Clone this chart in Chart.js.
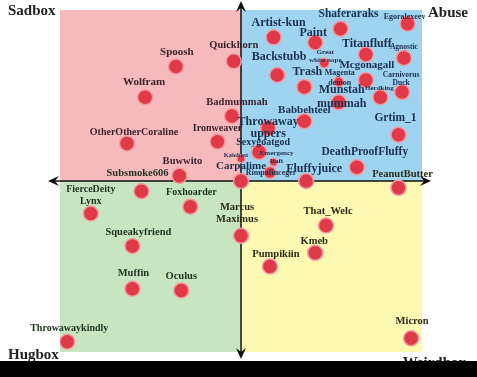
<!DOCTYPE html>
<html>
<head>
<meta charset="utf-8">
<script src="https://cdn.jsdelivr.net/npm/chart.js@4/dist/chart.umd.min.js"></script>
<style>
  html, body { margin: 0; padding: 0; background: #000; }
  canvas { display: block; }
</style>
</head>
<body>
<canvas id="quadChart" width="477" height="361"></canvas>
<script>
// data: x = sad(-) .. abuse/weird(+), y = hug(-) .. sad/abuse(+)
const names = [
  "Spoosh", "Quickhorn", "Wolfram", "Badmummah", "OtherOtherCoraline", "Ironweaver",
  "Buwwito", "Subsmoke606", "FierceDeity\nLynx", "Foxhoarder", "Marcus\nMaximus",
  "Squeakyfriend", "Muffin", "Oculus", "Throwawaykindly", "That_Welc", "Kmeb",
  "Pumpikiin", "Micron", "PeanutButter", "Shaferaraks", "Egoralexeev", "Artist-kun",
  "Paint", "Titanfluff", "Agnostic", "Great\nwhite nope", "Backstubb", "Mcgonagall",
  "Trash", "Magenta\ndemon", "Carnivorus\nDuck", "Herdking", "Munstah\nmummah",
  "Babbehteel", "Throwaway\nuppers", "Grtim_1", "Sexygoatgod", "Emergency\nRaft",
  "Kaiobest", "Carpalime", "Rimpofinceger", "Fluffyjuice", "DeathProofFluffy"
];
const xValues = [
  -0.36, -0.04, -0.53, -0.05, -0.63, -0.13,
  -0.34, -0.55, -0.83, -0.28, 0.00,
  -0.60, -0.60, -0.33, -0.96, 0.47, 0.41,
  0.16, 0.94, 0.87, 0.55, 0.92, 0.18,
  0.41, 0.69, 0.90, 0.46, 0.20, 0.69,
  0.35, 0.54, 0.89, 0.77, 0.54,
  0.35, 0.15, 0.87, 0.10, 0.18,
  0.00, 0.00, 0.16, 0.36, 0.64
];
const yValues = [
  0.67, 0.70, 0.49, 0.38, 0.22, 0.23,
  0.03, -0.06, -0.19, -0.15, -0.32,
  -0.38, -0.63, -0.64, -0.94, -0.26, -0.42,
  -0.50, -0.92, -0.04, 0.89, 0.92, 0.84,
  0.81, 0.74, 0.72, 0.69, 0.62, 0.59,
  0.55, 0.58, 0.52, 0.49, 0.46,
  0.35, 0.31, 0.27, 0.17, 0.11,
  0.13, 0.00, 0.05, 0.00, 0.08
];
const cornerLabels = ["Sadbox", "Abuse", "Hugbox", "Weirdbox"];

// label placement: [dx, dy, fontSize, lineGap]
const labelStyle = {
  "Spoosh": [1, -14, 11], "Quickhorn": [0, -16, 10.5], "Wolfram": [-1, -15, 11],
  "Badmummah": [5, -14, 10.5], "OtherOtherCoraline": [7, -11, 10], "Ironweaver": [0, -13, 10],
  "Buwwito": [3, -15, 10.5], "Subsmoke606": [-4, -18, 10.5], "FierceDeity\nLynx": [0, -24, 10, 12],
  "Foxhoarder": [1, -14, 10], "Marcus\nMaximus": [-4, -28, 10.5, 12], "Squeakyfriend": [6, -14, 10.5],
  "Muffin": [1, -15, 10.5], "Oculus": [0, -14, 10.5], "Throwawaykindly": [2, -13, 10],
  "That_Welc": [2, -14, 10.5], "Kmeb": [-1, -12, 10.5], "Pumpikiin": [6, -12, 10.5],
  "Micron": [1, -17, 10.5], "PeanutButter": [4, -14, 10.5], "Shaferaraks": [8, -15, 11.5],
  "Egoralexeev": [-3, -7, 8], "Artist-kun": [5, -14, 12], "Paint": [-2, -10, 12],
  "Titanfluff": [1, -11, 12], "Agnostic": [0, -11, 7.5], "Great\nwhite nope": [1, -11, 7, 8],
  "Backstubb": [2, -18, 12], "Mcgonagall": [1, -15, 11], "Trash": [3, -15, 12],
  "Magenta\ndemon": [1, -9, 8, 10], "Carnivorus\nDuck": [-1, -17, 7.5, 8], "Herdking": [-1, -9, 7],
  "Munstah\nmummah": [3, -12, 12, 14], "Babbehteel": [0, -11, 11], "Throwaway\nuppers": [0, -6, 12, 12],
  "Grtim_1": [-3, -17, 11.5], "Sexygoatgod": [4, -10, 10], "Emergency\nRaft": [3, -9, 7, 8],
  "Kaiobest": [-5, -3, 6.5], "Carpalime": [0, -15, 11], "Rimpofinceger": [1, 0, 8],
  "Fluffyjuice": [8, -12, 12], "DeathProofFluffy": [8, -15, 11.5]
};
const smallDots = { "Great\nwhite nope": 5, "Magenta\ndemon": 5, "Emergency\nRaft": 4, "Kaiobest": 4, "Rimpofinceger": 6 };

const FONT = "'Liberation Serif', 'DejaVu Serif', serif";

// quadrant fills + arrows behind the dots
const quadrantPlugin = {
  id: "quadrants",
  beforeDraw(chart) {
    const { ctx, chartArea: a, scales } = chart;
    const x0 = scales.x.getPixelForValue(0);
    const y0 = scales.y.getPixelForValue(0);
    ctx.save();
    ctx.fillStyle = "#ffffff";
    ctx.fillRect(0, 0, chart.width, chart.height);
    ctx.fillStyle = "#f6babc";
    ctx.fillRect(a.left, a.top, x0 - a.left, y0 - a.top);
    ctx.fillStyle = "#9fd4f1";
    ctx.fillRect(x0, a.top, a.right - x0, y0 - a.top);
    ctx.fillStyle = "#c7e5c0";
    ctx.fillRect(a.left, y0, x0 - a.left, a.bottom - y0);
    ctx.fillStyle = "#fdf8b2";
    ctx.fillRect(x0, y0, a.right - x0, a.bottom - y0);
    ctx.restore();
  },
  beforeDatasetsDraw(chart) {
    const { ctx, chartArea: a, scales } = chart;
    const x0 = scales.x.getPixelForValue(0);
    const y0 = scales.y.getPixelForValue(0);
    const top = a.top - 9, bottom = a.bottom + 7, left = a.left - 12, right = a.right + 9;
    ctx.save();
    ctx.strokeStyle = "#111";
    ctx.fillStyle = "#111";
    ctx.lineWidth = 1.5;
    ctx.beginPath();
    ctx.moveTo(x0, top + 4); ctx.lineTo(x0, bottom - 4);
    ctx.moveTo(left + 4, y0); ctx.lineTo(right - 4, y0);
    ctx.stroke();
    function head(tx, ty, ux, uy) {
      // tip at (tx,ty), pointing along (ux,uy)
      const px = -uy, py = ux;
      ctx.beginPath();
      ctx.moveTo(tx, ty);
      ctx.lineTo(tx - ux * 11 + px * 5, ty - uy * 11 + py * 5);
      ctx.lineTo(tx - ux * 7, ty - uy * 7);
      ctx.lineTo(tx - ux * 11 - px * 5, ty - uy * 11 - py * 5);
      ctx.closePath();
      ctx.fill();
    }
    head(x0, top, 0, -1);
    head(x0, bottom, 0, 1);
    head(left, y0, -1, 0);
    head(right, y0, 1, 0);
    ctx.restore();
  },
  afterDatasetsDraw(chart) {
    const { ctx } = chart;
    const meta = chart.getDatasetMeta(0);
    ctx.save();
    ctx.textAlign = "center";
    ctx.textBaseline = "middle";
    meta.data.forEach((pt, i) => {
      const name = names[i];
      const st = labelStyle[name] || [0, -14, 10.5];
      const lines = name.split("\n");
      const gap = st[3] || st[2] + 2;
      const xv = xValues[i], yv = yValues[i];
      let col = "#1b2f4f";
      if (xv < 0 && yv >= 0) col = "#3b1f2a";
      else if (xv < 0) col = "#1f311f";
      else if (yv < 0) col = "#2c2c14";
      ctx.fillStyle = col;
      ctx.font = "bold " + st[2] + "px " + FONT;
      lines.forEach((ln, k) => {
        ctx.fillText(ln, pt.x + st[0], pt.y + st[1] + k * gap);
      });
    });
    // corner captions
    ctx.fillStyle = "#222";
    ctx.font = "bold 15px " + FONT;
    ctx.textAlign = "left";
    ctx.fillText(cornerLabels[0], 8, 11);
    ctx.fillText(cornerLabels[2], 8, 355);
    ctx.textAlign = "right";
    ctx.fillText(cornerLabels[1], 468, 13);
    ctx.fillText(cornerLabels[3], 466, 363);
    ctx.restore();
  }
};

const points = xValues.map((x, i) => ({ x: x, y: yValues[i] }));

new Chart(document.getElementById("quadChart"), {
  type: "scatter",
  data: {
    datasets: [{
      data: points,
      backgroundColor: "#e03a49",
      borderColor: "#f39aa0",
      borderWidth: 1.5,
      pointRadius: (c) => smallDots[names[c.dataIndex]] || 7.5,
      pointHoverRadius: (c) => smallDots[names[c.dataIndex]] || 7.5
    }]
  },
  options: {
    responsive: false,
    animation: false,
    devicePixelRatio: 1,
    layout: { padding: { left: 60, right: 55, top: 10, bottom: 8 } },
    scales: {
      x: { type: "linear", min: -1, max: 1, display: false },
      y: { type: "linear", min: -1, max: 1, display: false }
    },
    plugins: {
      legend: { display: false },
      tooltip: { enabled: false }
    },
    events: []
  },
  plugins: [quadrantPlugin]
});
</script>
</body>
</html>
